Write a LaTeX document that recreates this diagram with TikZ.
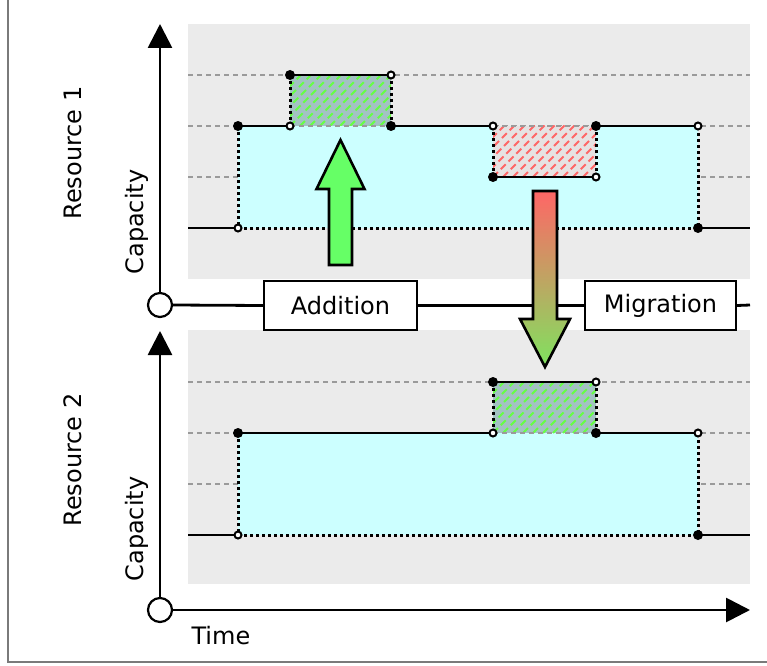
\documentclass[tikz,border=0pt]{standalone}
\usepackage{fontspec}
\setmainfont{DejaVu Sans}
\usetikzlibrary{arrows.meta}
\definecolor{panelgray}{HTML}{EBEBEB}
\definecolor{capcyan}{HTML}{CCFFFF}
\definecolor{addgreen}{HTML}{66FF66}
\definecolor{hatchbg}{HTML}{A3C2C2}
\definecolor{hatchgreen}{HTML}{66FF44}
\definecolor{hatchred}{HTML}{FF6666}
\definecolor{redbg}{HTML}{E6E2E2}
\definecolor{migred}{HTML}{FF6666}
\definecolor{migmid}{HTML}{B4B062}
\definecolor{miggreen}{HTML}{7FE35F}
\definecolor{framegray}{HTML}{7A7A7A}
\definecolor{gridgray}{HTML}{9A9A9A}

% hatched rectangle: x1, y1, x2, y2, background, line colour
\newcommand\hatchrect[6]{%
  \fill[#5] (#1,#2) rectangle (#3,#4);
  \begin{scope}
    \clip (#1,#2) rectangle (#3,#4);
    \foreach \k in {0,10,...,220}
      \draw[#6, line width=1.8bp, dash pattern=on 7bp off 4bp]
        ({#1-110+\k},{#4}) -- ++(120,-120);
  \end{scope}}

\begin{document}
\begin{tikzpicture}[x=1bp,y=-1bp,
  lbl/.style={font=\fontsize{24bp}{28bp}\selectfont},
  panel/.style={fill=panelgray},
  grid/.style={gridgray, line width=1.2bp, dash pattern=on 5bp off 4bp},
  stepline/.style={black, line width=2.8bp},
  edge/.style={black, line width=3bp, dash pattern=on 3bp off 3bp},
  axis/.style={black, line width=2.8bp},
  axisarrow/.style={axis, -{Triangle[length=24bp,width=24bp]}},
  origin/.style={circle, draw, fill=white, line width=2.2bp, minimum size=24bp, inner sep=0pt},
  tagbox/.style={lbl, draw, fill=white, line width=2.2bp, minimum height=49bp, inner sep=0pt},
  fdot/.style={circle, fill=black, inner sep=0pt, minimum size=10bp},
  odot/.style={circle, draw=black, fill=white, line width=2bp, inner sep=0pt, minimum size=7bp},
  bigarrow/.style={draw=black, line width=2.6bp, line join=miter}
]
\useasboundingbox (0,0) rectangle (767,666);

% outer frame
\draw[framegray, line width=2bp] (8,0) -- (8,662) -- (767,662);

% panels
\fill[panel] (188,24) rectangle (750,279);
\fill[panel] (188,330) rectangle (750,584);

% grid lines
\foreach \yy in {75,126,177,382,433,484}
  \draw[grid] (188,\yy) -- (750,\yy);

% ---------- Resource 1 ----------
\fill[capcyan] (238,228) -- (238,126) -- (493,126) -- (493,177) -- (596,177)
  -- (596,126) -- (698,126) -- (698,228) -- cycle;
\hatchrect{290}{75}{391}{126}{hatchbg}{hatchgreen}
\hatchrect{493}{126}{596}{177}{redbg}{hatchred}
\draw[grid] (290,126) -- (391,126);
\draw[grid] (493,126) -- (596,126);

\coordinate (a0) at (188,228); \coordinate (a1) at (238,228);
\coordinate (a2) at (238,126); \coordinate (a3) at (290,126);
\coordinate (a4) at (290,75);  \coordinate (a5) at (391,75);
\coordinate (a6) at (391,126); \coordinate (a7) at (493,126);
\coordinate (a8) at (493,177); \coordinate (a9) at (596,177);
\coordinate (a10) at (596,126); \coordinate (a11) at (698,126);
\coordinate (a12) at (698,228); \coordinate (a13) at (750,228);

\draw[edge] (a2) -- (a1) -- (a12) -- (a11);
\draw[edge] (a3) -- (a4);
\draw[edge] (a5) -- (a6);
\draw[edge] (a7) -- (a8);
\draw[edge] (a9) -- (a10);
\draw[stepline] (a0) -- (a1);
\draw[stepline] (a2) -- (a3);
\draw[stepline] (a4) -- (a5);
\draw[stepline] (a6) -- (a7);
\draw[stepline] (a8) -- (a9);
\draw[stepline] (a10) -- (a11);
\draw[stepline] (a12) -- (a13);
\foreach \p in {a2,a4,a6,a8,a10,a12} \node[fdot] at (\p) {};
\foreach \p in {a1,a3,a5,a7,a9,a11} \node[odot] at (\p) {};

% ---------- Resource 2 ----------
\fill[capcyan] (238,433) rectangle (698,535);
\hatchrect{493}{382}{596}{433}{hatchbg}{hatchgreen}
\draw[grid] (493,433) -- (596,433);

\coordinate (b0) at (188,535); \coordinate (b1) at (238,535);
\coordinate (b2) at (238,433); \coordinate (b3) at (493,433);
\coordinate (b4) at (493,382); \coordinate (b5) at (596,382);
\coordinate (b6) at (596,433); \coordinate (b7) at (698,433);
\coordinate (b8) at (698,535); \coordinate (b9) at (750,535);

\draw[edge] (b2) -- (b1) -- (b8) -- (b7);
\draw[edge] (b3) -- (b4);
\draw[edge] (b5) -- (b6);
\draw[stepline] (b0) -- (b1);
\draw[stepline] (b2) -- (b3);
\draw[stepline] (b4) -- (b5);
\draw[stepline] (b6) -- (b7);
\draw[stepline] (b8) -- (b9);
\foreach \p in {b2,b4,b6,b8} \node[fdot] at (\p) {};
\foreach \p in {b1,b3,b5,b7} \node[odot] at (\p) {};

% ---------- axes ----------
\node[origin] (o1) at (160,305) {};
\node[origin] (o2) at (160,610) {};
\coordinate (y1top) at (160,24);
\coordinate (y2top) at (160,331);
\coordinate (x1end) at (750,305);
\coordinate (x2end) at (750,610);
\node[tagbox, minimum width=153bp] (add) at (340.5,305.5) {Addition};
\node[tagbox, minimum width=151bp] (mig) at (660.5,305.5) {Migration};

\draw[axisarrow] (o1.north) -- (y1top);
\draw[axis] (o1.east) -- (add.west);
\draw[axis] (add.east) -- (mig.west);
\draw[axis] (mig.east) -- (x1end);
\draw[axisarrow] (o2.north) -- (y2top);
\draw[axisarrow] (o2.east) -- (x2end);

% ---------- labels ----------
\node[lbl, rotate=90] (r1) at (73,153) {Resource 1};
\node[lbl, rotate=90] (c1) at (137,222) {Capacity};
\node[lbl, rotate=90] (r2) at (73,460) {Resource 2};
\node[lbl, rotate=90] (c2) at (137,529) {Capacity};
\node[lbl, anchor=west] (time) at (188,636) {Time};

% ---------- addition arrow ----------
\path[bigarrow, fill=addgreen] (329,265) -- (329,189) -- (316.5,189) -- (340.5,140)
  -- (364.5,189) -- (352,189) -- (352,265) -- cycle;

% ---------- migration arrow ----------
\path[top color=migred, middle color=migmid, bottom color=miggreen]
  (533,191) -- (557,191) -- (557,319) -- (570,319) -- (545,367)
  -- (520,319) -- (533,319) -- cycle;
\draw[bigarrow] (533,191) -- (557,191) -- (557,319) -- (570,319) -- (545,367)
  -- (520,319) -- (533,319) -- cycle;
\end{tikzpicture}
\end{document}
